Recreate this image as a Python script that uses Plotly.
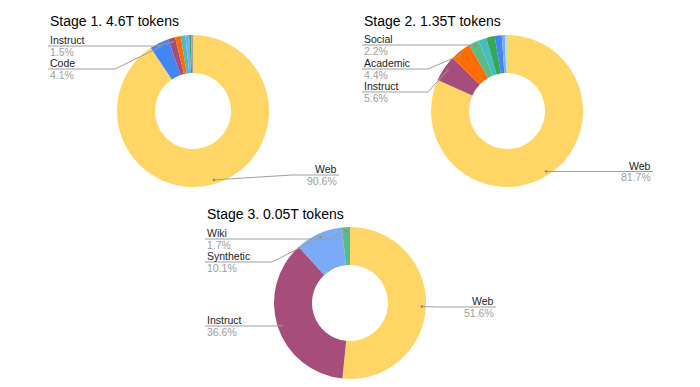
import math
import plotly.graph_objects as go

# ---------------- data ----------------
stage1_title = "Stage 1. 4.6T tokens"
stage1_labels = ["Web", "Code", "Instruct", "Other A", "Other B", "Other C", "Other D", "Other E"]
stage1_values = [90.6, 4.1, 1.5, 1.2, 1.0, 0.8, 0.4, 0.4]
stage1_colors = ["#FFD666", "#4285F4", "#A64D79", "#FF6D01", "#46BDC6", "#7BAAF7", "#34A853", "#A8A29A"]
stage1_shown = ["Web", "Code", "Instruct"]

stage2_title = "Stage 2. 1.35T tokens"
stage2_labels = ["Web", "Instruct", "Academic", "Social", "Other A", "Other B", "Other C", "Other D", "Other E"]
stage2_values = [81.7, 5.6, 4.4, 2.2, 1.7, 1.8, 1.5, 0.7, 0.4]
stage2_colors = ["#FFD666", "#A64D79", "#FF6D01", "#57BB8A", "#46BDC6", "#34A853", "#4285F4", "#7BAAF7", "#B7E1CD"]
stage2_shown = ["Web", "Instruct", "Academic", "Social"]

stage3_title = "Stage 3. 0.05T tokens"
stage3_labels = ["Web", "Instruct", "Synthetic", "Wiki"]
stage3_values = [51.6, 36.6, 10.1, 1.7]
stage3_colors = ["#FFD666", "#A64D79", "#7BAAF7", "#57BB8A"]
stage3_shown = ["Web", "Instruct", "Synthetic", "Wiki"]

# ---------------- layout (pixels) ----------------
W, H = 700, 387
R = 76
DOT_R = 72
pies = [
    dict(title=stage1_title, labels=stage1_labels, values=stage1_values, colors=stage1_colors,
         shown=stage1_shown, cx=193, cy=111, tx=48, ty=21,
         # label: (side, line_y, elbow_x, text_edge_x)
         place={"Instruct": ("L", 46, 158, 48), "Code": ("L", 69, 115, 48),
                "Web": ("R", 175, 292, 339)}),
    dict(title=stage2_title, labels=stage2_labels, values=stage2_values, colors=stage2_colors,
         shown=stage2_shown, cx=507, cy=111, tx=362, ty=21,
         place={"Social": ("L", 45, 470, 362), "Academic": ("L", 69, 428, 362),
                "Instruct": ("L", 92, 428, 362), "Web": ("R", 171.5, 560, 653)}),
    dict(title=stage3_title, labels=stage3_labels, values=stage3_values, colors=stage3_colors,
         shown=stage3_shown, cx=350, cy=303, tx=205, ty=214,
         place={"Wiki": ("L", 239, 330, 205), "Synthetic": ("L", 262, 272, 205),
                "Instruct": ("L", 326, 270, 205), "Web": ("R", 307, 440, 496)}),
]

FONT = "Arial, 'Liberation Sans', sans-serif"
LINE_COLOR = "#9E9E9E"
LABEL_SIZE = 10.5
OFF = 5.75

fig = go.Figure()
shapes = []
annotations = []

for p in pies:
    cx, cy = p["cx"], p["cy"]
    fig.add_trace(go.Pie(
        labels=p["labels"], values=p["values"],
        marker=dict(colors=p["colors"], line=dict(width=0)),
        hole=0.5, sort=False, direction="clockwise", rotation=0,
        textinfo="none", hoverinfo="label+percent", showlegend=False,
        domain=dict(x=[(cx - R) / W, (cx + R) / W], y=[1 - (cy + R) / H, 1 - (cy - R) / H]),
    ))
    annotations.append(dict(x=p["tx"], y=p["ty"], xref="x", yref="y", text=p["title"],
                            showarrow=False, xanchor="left", yanchor="middle",
                            font=dict(size=14, color="#000000", family=FONT)))
    total = sum(p["values"])
    cum = 0.0
    for lab, val in zip(p["labels"], p["values"]):
        mid = (cum + val / 2) / total * 2 * math.pi
        cum += val
        if lab not in p["shown"]:
            continue
        dx = cx + DOT_R * math.sin(mid)
        dy = cy - DOT_R * math.cos(mid)
        side, ly, ex, tx = p["place"][lab]
        pct = f"{val / total * 100:.1f}%"
        shapes.append(dict(type="path", xref="x", yref="y",
                           path=f"M {dx:.2f} {dy:.2f} L {ex} {ly} L {tx} {ly}",
                           line=dict(color=LINE_COLOR, width=1)))
        shapes.append(dict(type="circle", xref="x", yref="y",
                           x0=dx - 1.3, x1=dx + 1.3, y0=dy - 1.3, y1=dy + 1.3,
                           fillcolor="#8A8A8A", line=dict(width=0)))
        anchor = "left" if side == "L" else "right"
        annotations.append(dict(x=tx, y=ly - OFF, xref="x", yref="y", text=lab, showarrow=False,
                                xanchor=anchor, yanchor="middle",
                                font=dict(size=LABEL_SIZE, color="#222222", family=FONT)))
        annotations.append(dict(x=tx, y=ly + OFF, xref="x", yref="y", text=pct, showarrow=False,
                                xanchor=anchor, yanchor="middle",
                                font=dict(size=LABEL_SIZE, color="#9E9E9E", family=FONT)))

fig.update_layout(
    width=W, height=H, margin=dict(l=0, r=0, t=0, b=0),
    paper_bgcolor="white", plot_bgcolor="rgba(0,0,0,0)",
    xaxis=dict(range=[0, W], visible=False, fixedrange=True, domain=[0, 1]),
    yaxis=dict(range=[H, 0], visible=False, fixedrange=True, domain=[0, 1]),
    shapes=shapes, annotations=annotations, showlegend=False,
)
fig.write_html("out.html", config={"displayModeBar": False},
               post_script="document.body.style.margin='0';document.body.style.padding='0';")
